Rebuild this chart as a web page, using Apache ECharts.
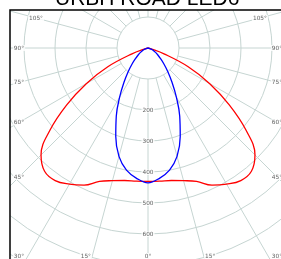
<!DOCTYPE html>
<html>
<head>
<meta charset="utf-8">
<script src="https://cdn.jsdelivr.net/npm/echarts@6/dist/echarts.min.js"></script>
<style>
  html, body { margin: 0; padding: 0; background: #fff; }
  #chart { width: 281px; height: 259px; }
</style>
</head>
<body>
<div id="chart"></div>
<script>
var chartTitle = 'URBH ROAD LED6'

// gamma angles (0 = straight down), symmetric on both sides
var gammaAngles = [0, 5, 10, 15, 20, 25, 30, 35, 40, 45, 50, 55, 60, 65, 70, 75, 80, 85, 90]
// C0-C180 plane (red)
var redValues = [430, 431, 434, 443, 458, 488, 507, 522, 519, 488, 413, 320, 230, 143, 55, 10, 0, 0, 0]
// C90-C270 plane (blue)
var blueValues = [435, 422, 400, 362, 304, 242, 183, 135, 99, 72, 52, 38, 28, 19, 11, 4, 0, 0, 0]

var ringLabels = [200, 300, 400, 500, 600]
var angleLabels = [0, 15, 30, 45, 60, 75, 90, 105]

var CX = 148, CY = 48
var R_MAX = 900
var R_PX = 279
var INNER_VALUE = 100
var SCALE = R_PX / R_MAX
var gridColor = '#c6d5d2'

// curve goes right side (90 -> 0) then left side (0 -> 90)
function toCurve(values){
  var res = []
  for (var i = gammaAngles.length - 1; i >= 0; i--) {
    res.push([values[i], 360 - gammaAngles[i]])
  }
  for (var j = 1; j < gammaAngles.length; j++) {
    res.push([values[j], gammaAngles[j]])
  }
  return res
}

// put angle labels where the ray meets the frame (inset a bit)
function edgeLabel(theta, side){
  var a = theta * Math.PI / 180
  var ux = side * Math.sin(a), uy = Math.cos(a)
  var ts = []
  if (ux < -1e-9) ts.push((19 - CX) / ux)
  if (ux > 1e-9) ts.push((277 - CX) / ux)
  if (uy < -1e-9) ts.push((18 - CY) / uy)
  if (uy > 1e-9) ts.push((280 - CY) / uy)
  var t = Math.min.apply(null, ts)
  var px = CX + t * ux, py = CY + t * uy
  if (py > 256) py = 256
  var dx = px - CX, dy = py - CY
  var r = Math.sqrt(dx * dx + dy * dy) / SCALE
  var g = Math.atan2(Math.abs(dx), dy) * 180 / Math.PI
  var ang = side < 0 ? g : 360 - g
  return { value: [r, ang], name: theta + '°' }
}

function angleLabelData(){
  var res = []
  for (var i = 0; i < angleLabels.length; i++) {
    var t = angleLabels[i]
    res.push(edgeLabel(t, -1))
    if (t !== 0) res.push(edgeLabel(t, 1))
  }
  return res
}

function ringLabelData(){
  return ringLabels.map(function (v) { return { value: [v, 0], name: String(v) } })
}

var labelFont = { fontFamily: 'DejaVu Sans', fontSize: 5.8, color: '#3a3a3a' }

var chart = echarts.init(document.getElementById('chart'), null, { renderer: 'canvas' })
chart.setOption({
  animation: false,
  backgroundColor: '#fff',
  title: {
    text: chartTitle,
    left: 55,
    top: -11,
    padding: 0,
    z: 200,
    textStyle: { fontFamily: 'Liberation Sans', fontSize: 21, fontWeight: 'normal', color: '#000' }
  },
  polar: [
    { center: [CX, CY], radius: [INNER_VALUE * SCALE, R_PX] },
    { center: [CX, CY], radius: [0, R_PX] }
  ],
  angleAxis: [
    {
      polarIndex: 0, type: 'value', min: 0, max: 360, interval: 15,
      startAngle: -90, clockwise: true,
      axisLine: { show: false }, axisTick: { show: false }, axisLabel: { show: false },
      splitLine: { show: true, lineStyle: { color: gridColor, width: 1 } }
    },
    { polarIndex: 1, type: 'value', min: 0, max: 360, startAngle: -90, clockwise: true, show: false }
  ],
  radiusAxis: [
    {
      polarIndex: 0, type: 'value', min: INNER_VALUE, max: R_MAX, interval: 100,
      axisLine: { show: false }, axisTick: { show: false }, axisLabel: { show: false },
      splitLine: { show: true, lineStyle: { color: gridColor, width: 1 } }
    },
    { polarIndex: 1, type: 'value', min: 0, max: R_MAX, show: false }
  ],
  series: [
    {
      name: 'C0-C180', type: 'line', coordinateSystem: 'polar', polarIndex: 1,
      data: toCurve(redValues), smooth: 0.4, showSymbol: false, symbol: 'none',
      lineStyle: { color: '#ff0000', width: 1.3 }, z: 5
    },
    {
      name: 'C90-C270', type: 'line', coordinateSystem: 'polar', polarIndex: 1,
      data: toCurve(blueValues), smooth: 0.4, showSymbol: false, symbol: 'none',
      lineStyle: { color: '#0000ff', width: 1.3 }, z: 6
    },
    {
      name: 'rings', type: 'scatter', coordinateSystem: 'polar', polarIndex: 1,
      data: ringLabelData(), symbolSize: 0.1, itemStyle: { color: 'rgba(0,0,0,0)' },
      label: {
        show: true, position: 'inside', formatter: '{b}',
        backgroundColor: '#fff', padding: [0, 1],
        fontFamily: labelFont.fontFamily, fontSize: labelFont.fontSize, color: labelFont.color
      },
      z: 4, silent: true
    },
    {
      name: 'angles', type: 'scatter', coordinateSystem: 'polar', polarIndex: 1,
      data: angleLabelData(), symbolSize: 0.1, itemStyle: { color: 'rgba(0,0,0,0)' },
      label: {
        show: true, position: 'inside', formatter: '{b}',
        backgroundColor: '#fff', padding: [0, 1],
        fontFamily: labelFont.fontFamily, fontSize: labelFont.fontSize, color: labelFont.color
      },
      z: 4, silent: true
    }
  ],
  graphic: [
    { type: 'rect', z: 100, shape: { x: -5, y: -5, width: 15, height: 300 }, style: { fill: '#fff' } },
    { type: 'rect', z: 100, shape: { x: -5, y: -5, width: 300, height: 15 }, style: { fill: '#fff' } },
    { type: 'polyline', z: 101, shape: { points: [[10, 300], [10, 10], [300, 10]] },
      style: { stroke: '#000', lineWidth: 1.5, fill: null } }
  ]
})
</script>
</body>
</html>
